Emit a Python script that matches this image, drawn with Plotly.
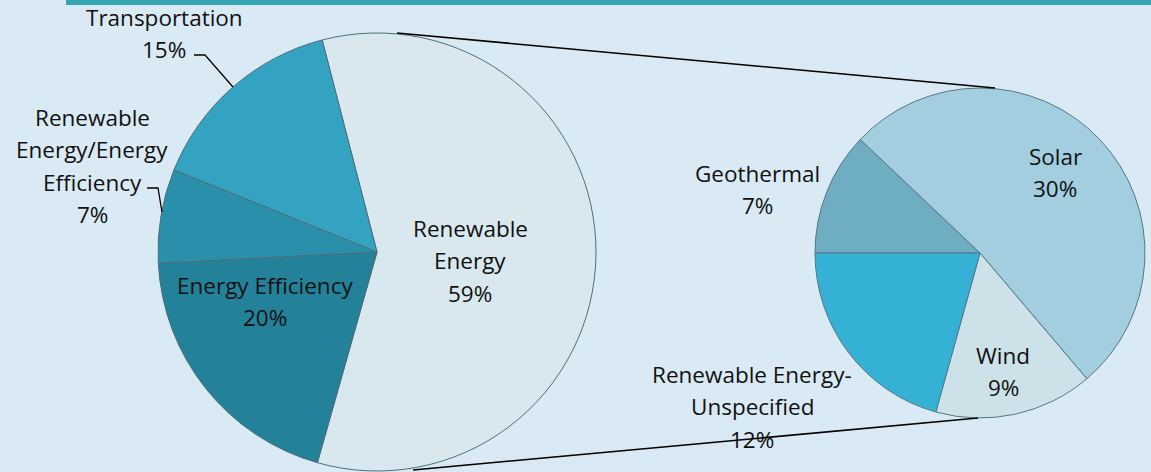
import plotly.graph_objects as go

W, H = 1151, 472

# ---- data ----
main_labels = ["Renewable Energy", "Energy Efficiency",
               "Renewable Energy/Energy Efficiency", "Transportation"]
main_values = [59, 20, 7, 15]
main_text = [["Renewable", "Energy"], ["Energy Efficiency"],
             ["Renewable", "Energy/Energy", "Efficiency"], ["Transportation"]]

sec_labels = ["Geothermal", "Solar", "Wind", "Renewable Energy-Unspecified"]
sec_values = [7, 30, 9, 12]
sec_text = [["Geothermal"], ["Solar"], ["Wind"], ["Renewable Energy-", "Unspecified"]]

# ---- styles ----
main_colors = ["#d8e8ee", "#24819a", "#2a8fab", "#34a2c1"]
sec_colors = ["#6eadc2", "#a2cee0", "#cde1e8", "#36b1d6"]
BG = "#d9eaf4"
FONT = "Open Sans"
FS = 22.5
LINE_H = 32.5

# label anchor (pixel centre of first line)
main_pos = [(470, 228), (265, 285), (92, 117), (164, 17)]
sec_pos = [(757, 173), (1055, 156), (1003, 355), (752, 374)]


def px(x, y):
    return x / W, 1 - y / H


fig = go.Figure()

# main pie: centre (377,252), r 219
fig.add_trace(go.Pie(
    labels=main_labels, values=main_values, sort=False, direction="clockwise",
    rotation=-14.5, textinfo="none", hoverinfo="label+percent",
    marker=dict(colors=main_colors, line=dict(color="#4f6e78", width=1)),
    domain=dict(x=[158 / W, 596 / W], y=[1 - 471 / H, 1 - 33 / H]),
    showlegend=False,
))

# secondary pie: centre (980,253), r 165
fig.add_trace(go.Pie(
    labels=sec_labels, values=sec_values, sort=False, direction="clockwise",
    rotation=-90, textinfo="none", hoverinfo="label+value",
    marker=dict(colors=sec_colors, line=dict(color="#557784", width=1)),
    domain=dict(x=[815 / W, 1145 / W], y=[1 - 418 / H, 1 - 88 / H]),
    showlegend=False,
))

annotations = []
for lines, val, (x0, y0) in list(zip(main_text, main_values, main_pos)) + \
        list(zip(sec_text, sec_values, sec_pos)):
    all_lines = lines + [f"{val}%"]
    for i, t in enumerate(all_lines):
        ax, ay = px(x0, y0 + i * LINE_H)
        annotations.append(dict(
            x=ax, y=ay, xref="paper", yref="paper", text=t, showarrow=False,
            xanchor="center", yanchor="middle",
            font=dict(family=FONT, size=FS, color="#111111")))

shapes = []
# top accent bar
x0, y0 = px(66, 0)
x1, y1 = px(W, 5)
shapes.append(dict(type="rect", xref="paper", yref="paper", x0=x0, y0=y1, x1=x1, y1=y0,
                   fillcolor="#35a4b3", line=dict(width=0), layer="below"))


def seg_path(points):
    p = " L ".join(f"{px(x, y)[0]:.5f},{px(x, y)[1]:.5f}" for x, y in points)
    return "M " + p


# connector lines between pies
for pts in [[(397, 33), (995, 88)], [(413, 470), (978, 418)]]:
    shapes.append(dict(type="path", xref="paper", yref="paper", path=seg_path(pts),
                       line=dict(color="#000000", width=1.6)))
# leader lines
for pts in [[(194, 55), (205, 55), (233, 87)], [(147, 188), (158, 188), (162, 212)]]:
    shapes.append(dict(type="path", xref="paper", yref="paper", path=seg_path(pts),
                       line=dict(color="#000000", width=1.3)))

fig.update_layout(
    width=W, height=H, margin=dict(l=0, r=0, t=0, b=0),
    paper_bgcolor=BG, plot_bgcolor=BG, showlegend=False,
    annotations=annotations, shapes=shapes,
)

fig.write_html("out.html")
